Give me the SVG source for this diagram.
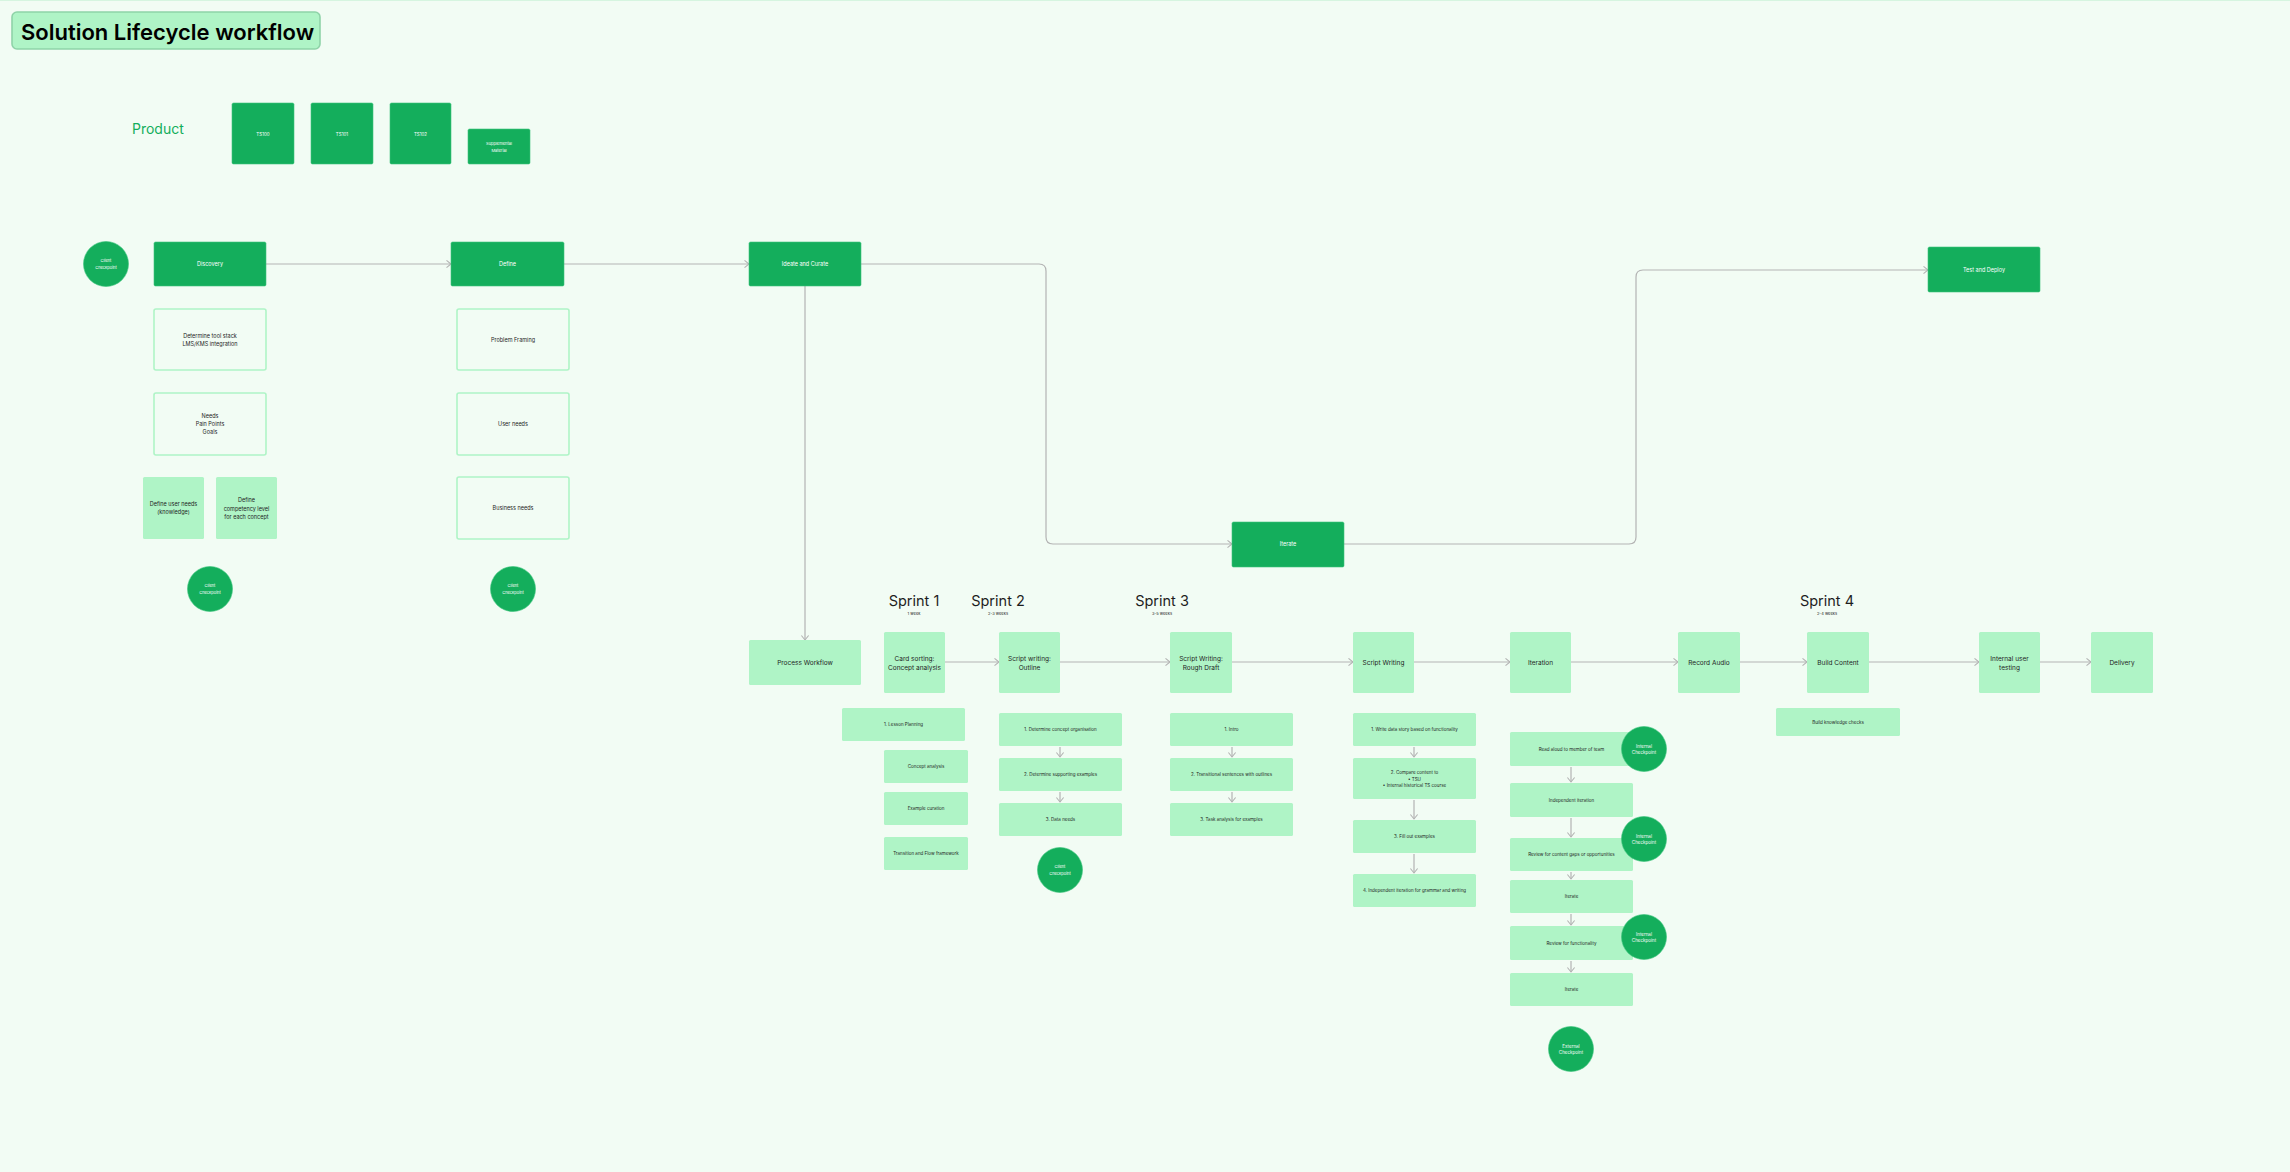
<svg xmlns="http://www.w3.org/2000/svg" width="2290" height="1172" viewBox="0 0 2290 1172">
<defs>
<style>
text{font-family:Inter,"Liberation Sans",sans-serif;text-anchor:middle}
.dk{fill:#14AE5C;stroke:#3DC47C;stroke-width:0.6}
.lt{fill:#AFF4C6}
.ol{fill:none;stroke:#AFF4C6;stroke-width:1.6}
.tw{fill:#ffffff}
.tb{fill:#1E1E1E}
.s55{font-size:5.5px}
.s65{font-size:6.5px}
.s45{font-size:4.5px}
.s4{font-size:4px}
.sp{font-size:14.5px;fill:#1E1E1E}
.sub{font-size:4px;fill:#1E1E1E}
.conn{fill:none;stroke:#B3B3B3;stroke-width:1.2}
</style>
<marker id="arr" viewBox="0 0 10 10" refX="9" refY="5" markerWidth="9" markerHeight="9" orient="auto" markerUnits="userSpaceOnUse">
<path d="M4,1 L9,5 L4,9" fill="none" stroke="#B3B3B3" stroke-width="1.2"/>
</marker>
</defs>
<rect x="0" y="0" width="2290" height="1172" fill="#F2FCF4"/>
<line x1="0" y1="0.5" x2="2290" y2="0.5" stroke="#D6F5E0" stroke-width="1"/>

<g id="title">
<rect x="12" y="12" width="308" height="37" rx="5" fill="#AFF4C6" stroke="#8FD3A8" stroke-width="1.6"/>
<text x="21" y="40" style="text-anchor:start;font-size:22px;font-weight:600" fill="#000">Solution Lifecycle workflow</text>
</g>

<g id="product-label"><text x="132" y="134" style="text-anchor:start;font-size:14px" fill="#14AE5C">Product</text></g>
<g id="ts100"><rect class="dk" x="232" y="103" width="62" height="61" rx="1.5"/><text class="tw s45" x="263" y="135.5">TS100</text></g>
<g id="ts101"><rect class="dk" x="311" y="103" width="62" height="61" rx="1.5"/><text class="tw s45" x="342" y="135.5">TS101</text></g>
<g id="ts102"><rect class="dk" x="390" y="103" width="61" height="61" rx="1.5"/><text class="tw s45" x="420.5" y="135.5">TS102</text></g>
<g id="supplemental"><rect class="dk" x="468" y="129" width="62" height="35" rx="1.5"/><text class="tw s4" x="499" y="145">Supplemental</text><text class="tw s4" x="499" y="152">Material</text></g>

<g id="connectors">
<path class="conn" d="M266,264 H451" marker-end="url(#arr)"/>
<path class="conn" d="M564,264 H749" marker-end="url(#arr)"/>
<path class="conn" d="M861,264 H1039 Q1046,264 1046,271 V537 Q1046,544 1053,544 H1232" marker-end="url(#arr)"/>
<path class="conn" d="M1344,544 H1629 Q1636,544 1636,537 V277 Q1636,270 1643,270 H1928" marker-end="url(#arr)"/>
<path class="conn" d="M805,286 V640" marker-end="url(#arr)"/>
<path class="conn" d="M945,662 H999" marker-end="url(#arr)"/>
<path class="conn" d="M1060,662 H1170" marker-end="url(#arr)"/>
<path class="conn" d="M1232,662 H1353" marker-end="url(#arr)"/>
<path class="conn" d="M1414,662 H1510" marker-end="url(#arr)"/>
<path class="conn" d="M1571,662 H1678" marker-end="url(#arr)"/>
<path class="conn" d="M1740,662 H1807" marker-end="url(#arr)"/>
<path class="conn" d="M1869,662 H1979" marker-end="url(#arr)"/>
<path class="conn" d="M2040,662 H2091" marker-end="url(#arr)"/>
<path class="conn" d="M1060,747 V757" marker-end="url(#arr)"/>
<path class="conn" d="M1060,792 V802" marker-end="url(#arr)"/>
<path class="conn" d="M1232,747 V757" marker-end="url(#arr)"/>
<path class="conn" d="M1232,792 V802" marker-end="url(#arr)"/>
<path class="conn" d="M1414,747 V757" marker-end="url(#arr)"/>
<path class="conn" d="M1414,800 V819" marker-end="url(#arr)"/>
<path class="conn" d="M1414,854 V873" marker-end="url(#arr)"/>
<path class="conn" d="M1571,767 V782" marker-end="url(#arr)"/>
<path class="conn" d="M1571,818 V837" marker-end="url(#arr)"/>
<path class="conn" d="M1571,872 V879" marker-end="url(#arr)"/>
<path class="conn" d="M1571,914 V925" marker-end="url(#arr)"/>
<path class="conn" d="M1571,961 V972" marker-end="url(#arr)"/>
</g>

<g id="client-checkpoint-1"><circle class="dk" cx="106" cy="264" r="22.5"/><text class="tw s4" x="106" y="261.5">Client</text><text class="tw s4" x="106" y="268.5">Checkpoint</text></g>
<g id="discovery"><rect class="dk" x="154" y="242" width="112" height="44" rx="1.5"/><text class="tw s55" x="210" y="266">Discovery</text></g>
<g id="tool-stack"><rect class="ol" x="154" y="309" width="112" height="61" rx="2"/><text class="tb s55" x="210" y="338">Determine tool stack</text><text class="tb s55" x="210" y="346">LMS/KMS integration</text></g>
<g id="needs"><rect class="ol" x="154" y="393" width="112" height="62" rx="2"/><text class="tb s55" x="210" y="418">Needs</text><text class="tb s55" x="210" y="426">Pain Points</text><text class="tb s55" x="210" y="434">Goals</text></g>
<g id="define-user-needs"><rect class="lt" x="143" y="477" width="61" height="62" rx="1.5"/><text class="tb s55" x="173.5" y="506">Define user needs</text><text class="tb s55" x="173.5" y="514">(knowledge)</text></g>
<g id="define-competency"><rect class="lt" x="216" y="477" width="61" height="62" rx="1.5"/><text class="tb s55" x="246.5" y="502">Define</text><text class="tb s55" x="246.5" y="510.5">competency level</text><text class="tb s55" x="246.5" y="519">for each concept</text></g>
<g id="client-checkpoint-2"><circle class="dk" cx="210" cy="589" r="22.5"/><text class="tw s4" x="210" y="586.5">Client</text><text class="tw s4" x="210" y="593.5">Checkpoint</text></g>

<g id="define"><rect class="dk" x="451" y="242" width="113" height="44" rx="1.5"/><text class="tw s55" x="507.5" y="266">Define</text></g>
<g id="problem-framing"><rect class="ol" x="457" y="309" width="112" height="61" rx="2"/><text class="tb s55" x="513" y="342">Problem Framing</text></g>
<g id="user-needs"><rect class="ol" x="457" y="393" width="112" height="62" rx="2"/><text class="tb s55" x="513" y="426">User needs</text></g>
<g id="business-needs"><rect class="ol" x="457" y="477" width="112" height="62" rx="2"/><text class="tb s55" x="513" y="510">Business needs</text></g>
<g id="client-checkpoint-3"><circle class="dk" cx="513" cy="589" r="22.5"/><text class="tw s4" x="513" y="586.5">Client</text><text class="tw s4" x="513" y="593.5">Checkpoint</text></g>

<g id="ideate"><rect class="dk" x="749" y="242" width="112" height="44" rx="1.5"/><text class="tw s55" x="805" y="266">Ideate and Curate</text></g>
<g id="iterate-top"><rect class="dk" x="1232" y="522" width="112" height="45" rx="1.5"/><text class="tw s55" x="1288" y="546">Iterate</text></g>
<g id="test-deploy"><rect class="dk" x="1928" y="247" width="112" height="45" rx="1.5"/><text class="tw s55" x="1984" y="271.5">Test and Deploy</text></g>

<g id="sprint-labels">
<text class="sp" x="914" y="606">Sprint 1</text><text class="sub" x="914" y="615">1 week</text>
<text class="sp" x="998" y="606">Sprint 2</text><text class="sub" x="998" y="615">2-3 weeks</text>
<text class="sp" x="1162" y="606">Sprint 3</text><text class="sub" x="1162" y="615">3-5 weeks</text>
<text class="sp" x="1827" y="606">Sprint 4</text><text class="sub" x="1827" y="615">2-4 weeks</text>
</g>

<g id="process-workflow"><rect class="lt" x="749" y="640" width="112" height="45" rx="1.5"/><text class="tb s65" x="805" y="665">Process Workflow</text></g>
<g id="card-sorting"><rect class="lt" x="884" y="632" width="61" height="61" rx="1.5"/><text class="tb s65" x="914.5" y="661">Card sorting:</text><text class="tb s65" x="914.5" y="669.5">Concept analysis</text></g>
<g id="script-outline"><rect class="lt" x="999" y="632" width="61" height="61" rx="1.5"/><text class="tb s65" x="1029.5" y="661">Script writing:</text><text class="tb s65" x="1029.5" y="669.5">Outline</text></g>
<g id="script-rough"><rect class="lt" x="1170" y="632" width="62" height="61" rx="1.5"/><text class="tb s65" x="1201" y="661">Script Writing:</text><text class="tb s65" x="1201" y="669.5">Rough Draft</text></g>
<g id="script-writing"><rect class="lt" x="1353" y="632" width="61" height="61" rx="1.5"/><text class="tb s65" x="1383.5" y="665">Script Writing</text></g>
<g id="iteration"><rect class="lt" x="1510" y="632" width="61" height="61" rx="1.5"/><text class="tb s65" x="1540.5" y="665">Iteration</text></g>
<g id="record-audio"><rect class="lt" x="1678" y="632" width="62" height="61" rx="1.5"/><text class="tb s65" x="1709" y="665">Record Audio</text></g>
<g id="build-content"><rect class="lt" x="1807" y="632" width="62" height="61" rx="1.5"/><text class="tb s65" x="1838" y="665">Build Content</text></g>
<g id="internal-testing"><rect class="lt" x="1979" y="632" width="61" height="61" rx="1.5"/><text class="tb s65" x="2009.5" y="661">Internal user</text><text class="tb s65" x="2009.5" y="669.5">testing</text></g>
<g id="delivery"><rect class="lt" x="2091" y="632" width="62" height="61" rx="1.5"/><text class="tb s65" x="2122" y="665">Delivery</text></g>

<g id="lesson-planning"><rect class="lt" x="842" y="708" width="123" height="33" rx="1.5"/><text class="tb s45" x="903.5" y="726">1. Lesson Planning</text></g>
<g id="concept-analysis"><rect class="lt" x="884" y="750" width="84" height="33" rx="1.5"/><text class="tb s45" x="926" y="768">Concept analysis</text></g>
<g id="example-curation"><rect class="lt" x="884" y="792" width="84" height="33" rx="1.5"/><text class="tb s45" x="926" y="810">Example curation</text></g>
<g id="transition-flow"><rect class="lt" x="884" y="837" width="84" height="33" rx="1.5"/><text class="tb s45" x="926" y="855">Transition and Flow framework</text></g>

<g id="s2-1"><rect class="lt" x="999" y="713" width="123" height="33" rx="1.5"/><text class="tb s45" x="1060.5" y="731">1. Determine concept organisation</text></g>
<g id="s2-2"><rect class="lt" x="999" y="758" width="123" height="33" rx="1.5"/><text class="tb s45" x="1060.5" y="776">2. Determine supporting examples</text></g>
<g id="s2-3"><rect class="lt" x="999" y="803" width="123" height="33" rx="1.5"/><text class="tb s45" x="1060.5" y="821">3. Data needs</text></g>
<g id="client-checkpoint-4"><circle class="dk" cx="1060" cy="870" r="22.5"/><text class="tw s4" x="1060" y="867.5">Client</text><text class="tw s4" x="1060" y="874.5">Checkpoint</text></g>

<g id="s3-1"><rect class="lt" x="1170" y="713" width="123" height="33" rx="1.5"/><text class="tb s45" x="1231.5" y="731">1. Intro</text></g>
<g id="s3-2"><rect class="lt" x="1170" y="758" width="123" height="33" rx="1.5"/><text class="tb s45" x="1231.5" y="776">2. Transitional sentences with outlines</text></g>
<g id="s3-3"><rect class="lt" x="1170" y="803" width="123" height="33" rx="1.5"/><text class="tb s45" x="1231.5" y="821">3. Task analysis for examples</text></g>

<g id="sw-1"><rect class="lt" x="1353" y="713" width="123" height="33" rx="1.5"/><text class="tb s45" x="1414.5" y="731">1. Write data story based on functionality</text></g>
<g id="sw-2"><rect class="lt" x="1353" y="758" width="123" height="41" rx="1.5"/><text class="tb s45" x="1414.5" y="774">2. Compare content to</text><text class="tb s45" x="1414.5" y="780.5">•  TSU</text><text class="tb s45" x="1414.5" y="787">•  Internal historical TS course</text></g>
<g id="sw-3"><rect class="lt" x="1353" y="820" width="123" height="33" rx="1.5"/><text class="tb s45" x="1414.5" y="838">3. Fill out examples</text></g>
<g id="sw-4"><rect class="lt" x="1353" y="874" width="123" height="33" rx="1.5"/><text class="tb s45" x="1414.5" y="892">4. Independent iteration for grammar and writing</text></g>

<g id="it-1"><rect class="lt" x="1510" y="732" width="123" height="34" rx="1.5"/><text class="tb s45" x="1571.5" y="750.5">Read aloud to member of team</text></g>
<g id="it-2"><rect class="lt" x="1510" y="783" width="123" height="34" rx="1.5"/><text class="tb s45" x="1571.5" y="801.5">Independent iteration</text></g>
<g id="it-3"><rect class="lt" x="1510" y="838" width="123" height="33" rx="1.5"/><text class="tb s45" x="1571.5" y="856">Review for content gaps or opportunities</text></g>
<g id="it-4"><rect class="lt" x="1510" y="880" width="123" height="33" rx="1.5"/><text class="tb s45" x="1571.5" y="898">Iterate</text></g>
<g id="it-5"><rect class="lt" x="1510" y="926" width="123" height="34" rx="1.5"/><text class="tb s45" x="1571.5" y="944.5">Review for functionality</text></g>
<g id="it-6"><rect class="lt" x="1510" y="973" width="123" height="33" rx="1.5"/><text class="tb s45" x="1571.5" y="991">Iterate</text></g>
<g id="internal-checkpoint-1"><circle class="dk" cx="1644" cy="749" r="22.5"/><text class="tw s45" x="1644" y="747.5">Internal</text><text class="tw s45" x="1644" y="754">Checkpoint</text></g>
<g id="internal-checkpoint-2"><circle class="dk" cx="1644" cy="839" r="22.5"/><text class="tw s45" x="1644" y="837.5">Internal</text><text class="tw s45" x="1644" y="844">Checkpoint</text></g>
<g id="internal-checkpoint-3"><circle class="dk" cx="1644" cy="937" r="22.5"/><text class="tw s45" x="1644" y="935.5">Internal</text><text class="tw s45" x="1644" y="942">Checkpoint</text></g>
<g id="external-checkpoint"><circle class="dk" cx="1571" cy="1049" r="22.5"/><text class="tw s45" x="1571" y="1047.5">External</text><text class="tw s45" x="1571" y="1054">Checkpoint</text></g>

<g id="knowledge-checks"><rect class="lt" x="1776" y="708" width="124" height="28" rx="1.5"/><text class="tb s45" x="1838" y="723.5">Build knowledge checks</text></g>
</svg>
